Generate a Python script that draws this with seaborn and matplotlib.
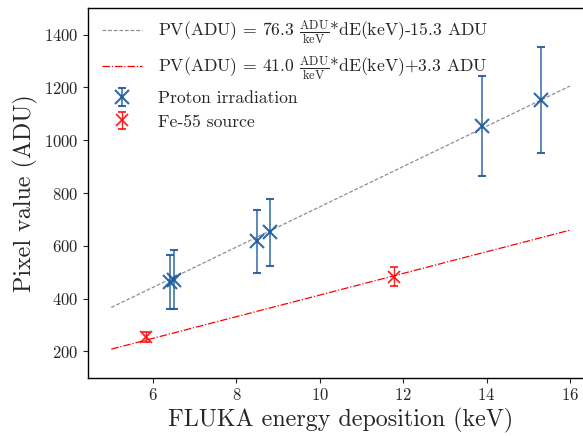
import matplotlib
matplotlib.use("Agg")
import matplotlib.pyplot as plt
import seaborn as sns
import numpy as np
import pandas as pd

# ---- data ----
proton_x = [6.40, 6.50, 8.49, 8.80, 13.90, 15.30]
proton_y = [463, 472, 617, 652, 1054, 1154]
proton_err = [102, 113, 119, 127, 191, 201]

fe_x = [5.83, 11.79]
fe_y = [254, 482]
fe_err = [18, 36]

fit_slopes = [76.3, 41.0]
fit_intercepts = [-15.3, 3.3]
fit_range = [5, 16]
fit_labels = [
    r"PV(ADU) = 76.3 $\frac{\mathrm{ADU}}{\mathrm{keV}}$*dE(keV)-15.3 ADU",
    r"PV(ADU) = 41.0 $\frac{\mathrm{ADU}}{\mathrm{keV}}$*dE(keV)+3.3 ADU",
]
xticks = [6, 8, 10, 12, 14, 16]
yticks = [200, 400, 600, 800, 1000, 1200, 1400]

sns.set_style("ticks")
plt.rcParams["font.family"] = ["cmr10", "DejaVu Serif"]
plt.rcParams["mathtext.fontset"] = "cm"
plt.rcParams["axes.formatter.use_mathtext"] = True

fig = plt.figure(figsize=(5.83, 4.36), dpi=100)
ax = fig.add_axes([0.1515, 0.1337, 0.8655, 0.8472])

# fit lines
fit_df = pd.DataFrame({
    "x": fit_range * 2,
    "y": [fit_slopes[0] * v + fit_intercepts[0] for v in fit_range]
       + [fit_slopes[1] * v + fit_intercepts[1] for v in fit_range],
    "fit": [fit_labels[0]] * 2 + [fit_labels[1]] * 2,
})
sns.lineplot(data=fit_df[fit_df["fit"] == fit_labels[0]], x="x", y="y", ax=ax,
             color="#909090", lw=0.9, linestyle=(0, (3, 1.5)), label=fit_labels[0])
sns.lineplot(data=fit_df[fit_df["fit"] == fit_labels[1]], x="x", y="y", ax=ax,
             color="red", lw=0.9, linestyle=(0, (6, 1.5, 1, 1.5)), label=fit_labels[1])

ax.errorbar(proton_x, proton_y, yerr=proton_err, fmt="x", color="#1a5a9e",
            markersize=10, mew=1.5, capsize=3, elinewidth=1.1, alpha=0.9,
            label="Proton irradiation")
ax.errorbar(fe_x, fe_y, yerr=fe_err, fmt="x", color="red",
            markersize=9, mew=1.3, capsize=3, elinewidth=1.0, alpha=0.85,
            label="Fe-55 source")

ax.set_xlim(4.45, 16.55)
ax.set_ylim(100, 1500)
ax.set_xticks(xticks)
ax.set_yticks(yticks)
ax.tick_params(labelsize=12, length=3.5)
ax.set_xlabel("FLUKA energy deposition (keV)", fontsize=17.3, labelpad=3)
ax.set_ylabel("Pixel value (ADU)", fontsize=17.3)
for s in ax.spines.values():
    s.set_linewidth(1.0)
    s.set_color("black")

ax.legend(loc="upper left", frameon=False, fontsize=12.7, handlelength=2.3,
          handletextpad=0.9, labelspacing=0.45, borderaxespad=0.35,
          bbox_to_anchor=(0.0, 1.008))

fig.savefig("out.png", dpi=100)
